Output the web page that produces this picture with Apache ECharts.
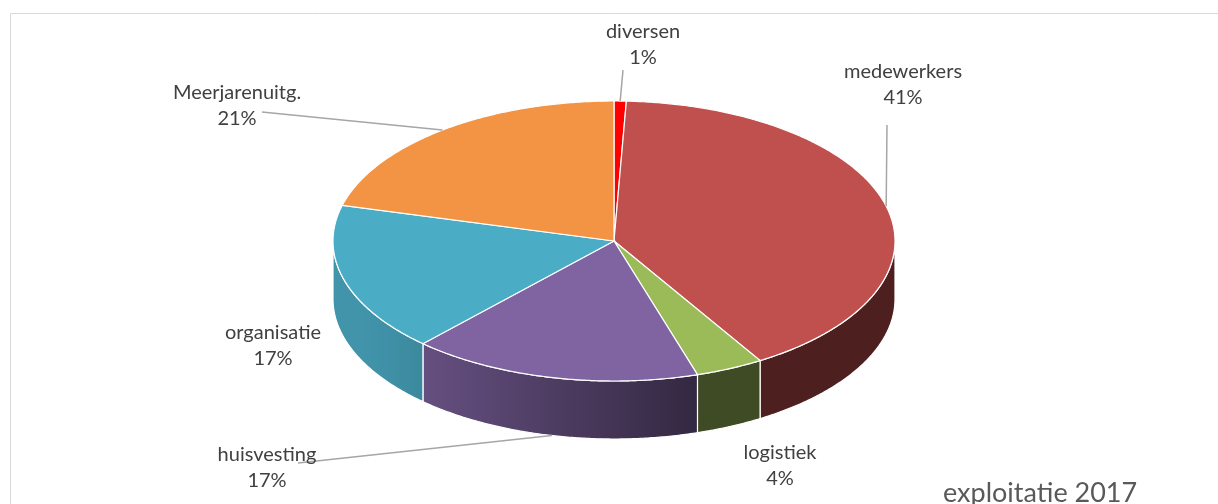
<!DOCTYPE html>
<html>
<head>
<meta charset="utf-8">
<script src="https://cdn.jsdelivr.net/npm/echarts@6/dist/echarts.min.js"></script>
<style>
html,body{margin:0;padding:0;background:#fff;}
#chart{width:1218px;height:504px;}
</style>
</head>
<body>
<div id="chart"></div>
<script>
// ---- data ----
const categories = ['diversen', 'medewerkers', 'logistiek', 'huisvesting', 'organisatie', 'Meerjarenuitg.'];
const values = [0.7, 40.6, 3.9, 16.7, 17.2, 20.9];
const colors = ['#ff0000', '#c0504d', '#9bbb59', '#8064a2', '#4bacc6', '#f29443'];
const chartTitle = 'exploitatie 2017';

// ---- layout (not data) ----
const CX = 614, CY = 241, RX = 281, RY = 140, DEPTH = 58;
const labelPos = [[643, 45], [903, 85], [780, 466], [267, 468], [273, 346], [237, 106]];
const leaderStart = [[623, 70], [887, 125], null, [298, 463], null, [262, 112]];
const leaderToBottom = [false, false, false, true, false, false];

const total = values.reduce((a, b) => a + b, 0);
const startAngles = [];
let acc = 0;
values.forEach(v => { startAngles.push(acc / total * 360); acc += v; });

function pt(deg, dy) {
  const r = deg * Math.PI / 180;
  return [CX + RX * Math.sin(r), CY - RY * Math.cos(r) + (dy || 0)];
}
function shade(u) {
  return Math.max(0.4, Math.min(0.86, 0.52 - 0.4 * u));
}
function darken(hex, f) {
  const n = parseInt(hex.slice(1), 16);
  const r = Math.round(((n >> 16) & 255) * f), g = Math.round(((n >> 8) & 255) * f), b = Math.round((n & 255) * f);
  return 'rgb(' + r + ',' + g + ',' + b + ')';
}
function sideGradient(hex) {
  const stops = [];
  for (let i = 0; i <= 20; i++) {
    const u = -1 + i / 10;
    stops.push({ offset: i / 20, color: darken(hex, shade(u)) });
  }
  return { type: 'linear', x: CX - RX, y: 0, x2: CX + RX, y2: 0, global: true, colorStops: stops };
}

function renderItem(params, api) {
  const i = params.dataIndex;
  const v = api.value(0);
  const a0 = startAngles[i];
  const a1 = a0 + v / total * 360;
  const children = [];
  // front side wall
  const f0 = Math.max(a0, 90), f1 = Math.min(a1, 270);
  if (f1 > f0) {
    const top = [], bot = [];
    const n = Math.max(2, Math.ceil((f1 - f0) / 0.5));
    for (let k = 0; k <= n; k++) {
      const a = f0 + (f1 - f0) * k / n;
      top.push(pt(a, 0));
      bot.push(pt(a, DEPTH));
    }
    children.push({
      type: 'polygon',
      shape: { points: top.concat(bot.reverse()) },
      style: { fill: sideGradient(colors[i]), stroke: '#ffffff', lineWidth: 1.2 }
    });
  }
  // top face
  const pts = [[CX, CY]];
  const m = Math.max(2, Math.ceil((a1 - a0) / 0.5));
  for (let k = 0; k <= m; k++) pts.push(pt(a0 + (a1 - a0) * k / m, 0));
  children.push({
    type: 'polygon',
    shape: { points: pts },
    style: { fill: colors[i], stroke: '#ffffff', lineWidth: 1.2 }
  });
  // leader line
  if (leaderStart[i]) {
    const mid = (a0 + a1) / 2;
    const end = pt(mid, leaderToBottom[i] ? DEPTH : 0);
    children.push({
      type: 'polyline',
      shape: { points: [leaderStart[i], end] },
      style: { stroke: '#a6a6a6', lineWidth: 1.5, fill: null }
    });
  }
  // label
  const pct = Math.round(v / total * 100) + '%';
  children.push({
    type: 'text',
    x: labelPos[i][0], y: labelPos[i][1],
    style: {
      text: categories[i] + '\n' + pct,
      fill: '#404040',
      font: '20px Lato',
      lineHeight: 26,
      align: 'center',
      verticalAlign: 'middle'
    }
  });
  return { type: 'group', children: children };
}

const chart = echarts.init(document.getElementById('chart'), null, { renderer: 'canvas' });
chart.setOption({
  backgroundColor: '#ffffff',
  animation: false,
  graphic: [
    { type: 'rect', shape: { x: 10.5, y: 13.5, width: 1400, height: 700 }, style: { fill: null, stroke: '#d9d9d9', lineWidth: 1 }, z: -10 },
    { type: 'text', x: 943, y: 507, style: { text: chartTitle, fill: '#595959', font: '27px Lato', align: 'left', verticalAlign: 'bottom' } }
  ],
  series: [{
    type: 'custom',
    coordinateSystem: 'none',
    renderItem: renderItem,
    data: values
  }]
});
</script>
</body>
</html>
